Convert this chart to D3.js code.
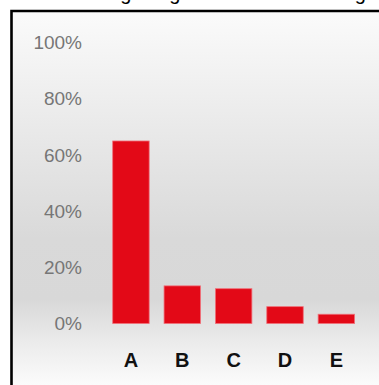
<!DOCTYPE html>
<html>
<head>
<meta charset="utf-8">
<script src="https://cdn.jsdelivr.net/npm/d3@7"></script>
<style>
  html, body { margin: 0; padding: 0; background: #ffffff; }
  svg { display: block; }
</style>
</head>
<body>
<svg id="chart" width="379" height="385"></svg>
<script>
// Share of responses by category
const categories = ["A", "B", "C", "D", "E"];
const shares = [0.65, 0.134, 0.124, 0.06, 0.033];
const yTicks = [0, 0.2, 0.4, 0.6, 0.8, 1.0];
const titleText = "Ranking a big Brand Share Among";

const W = 379, H = 385;
const svg = d3.select("#chart");

// Soft vertical grey gradient behind the plot
const defs = svg.append("defs");
const grad = defs.append("linearGradient")
  .attr("id", "bg").attr("x1", 0).attr("y1", 0).attr("x2", 0).attr("y2", 1);
[[0, "#fbfbfb"], [0.28, "#ebebeb"], [0.6, "#d9d9d9"], [0.76, "#d8d8d8"],
 [0.88, "#ececec"], [1, "#fdfdfd"]].forEach(([o, c]) =>
  grad.append("stop").attr("offset", o).attr("stop-color", c));

const frameX = 11.5, frameY = 11;
svg.append("rect")
  .attr("x", frameX).attr("y", frameY)
  .attr("width", W - frameX + 5).attr("height", H - frameY + 5)
  .attr("fill", "url(#bg)");

// Frame border (top and left edges visible)
svg.append("path")
  .attr("d", `M${frameX},${H + 5} V${frameY} H${W + 5}`)
  .attr("fill", "none").attr("stroke", "#000").attr("stroke-width", 2.6);

// Title, running above the top edge of the page
svg.append("text")
  .attr("x", 58).attr("y", 0)
  .attr("font-family", "Liberation Sans, Arial, sans-serif")
  .attr("font-size", 20)
  .attr("fill", "#000")
  .text(titleText);

const x = d3.scaleBand()
  .domain(categories)
  .range([112.7, 354.6])
  .paddingInner(0.29)
  .paddingOuter(0);

const y = d3.scaleLinear()
  .domain([0, 1])
  .range([323.5, 42.7]);

// Y axis labels
const yAxis = d3.axisLeft(y)
  .tickValues(yTicks)
  .tickFormat(d3.format(".0%"))
  .tickSize(0)
  .tickPadding(0);

const gy = svg.append("g")
  .attr("transform", "translate(82,0)")
  .call(yAxis);
gy.select(".domain").remove();
gy.selectAll("text")
  .attr("font-family", "Liberation Sans, Arial, sans-serif")
  .attr("font-size", 19)
  .attr("fill", "#767676");

// Bars
svg.append("g")
  .selectAll("rect")
  .data(categories.map((c, i) => ({ c, v: shares[i] })))
  .join("rect")
  .attr("x", d => x(d.c))
  .attr("y", d => y(d.v))
  .attr("width", x.bandwidth())
  .attr("height", d => y(0) - y(d.v))
  .attr("fill", "#e30917")
  .attr("stroke", "#f0707a")
  .attr("stroke-width", 0.8);

// Category labels
const xAxis = d3.axisBottom(x).tickSize(0).tickPadding(0);
const gx = svg.append("g")
  .attr("transform", `translate(0,${y(0)})`)
  .call(xAxis);
gx.select(".domain").remove();
gx.selectAll("text")
  .attr("y", 43.5)
  .attr("dy", 0)
  .attr("font-family", "Liberation Sans, Arial, sans-serif")
  .attr("font-weight", "bold")
  .attr("font-size", 20)
  .attr("fill", "#111");
</script>
</body>
</html>
